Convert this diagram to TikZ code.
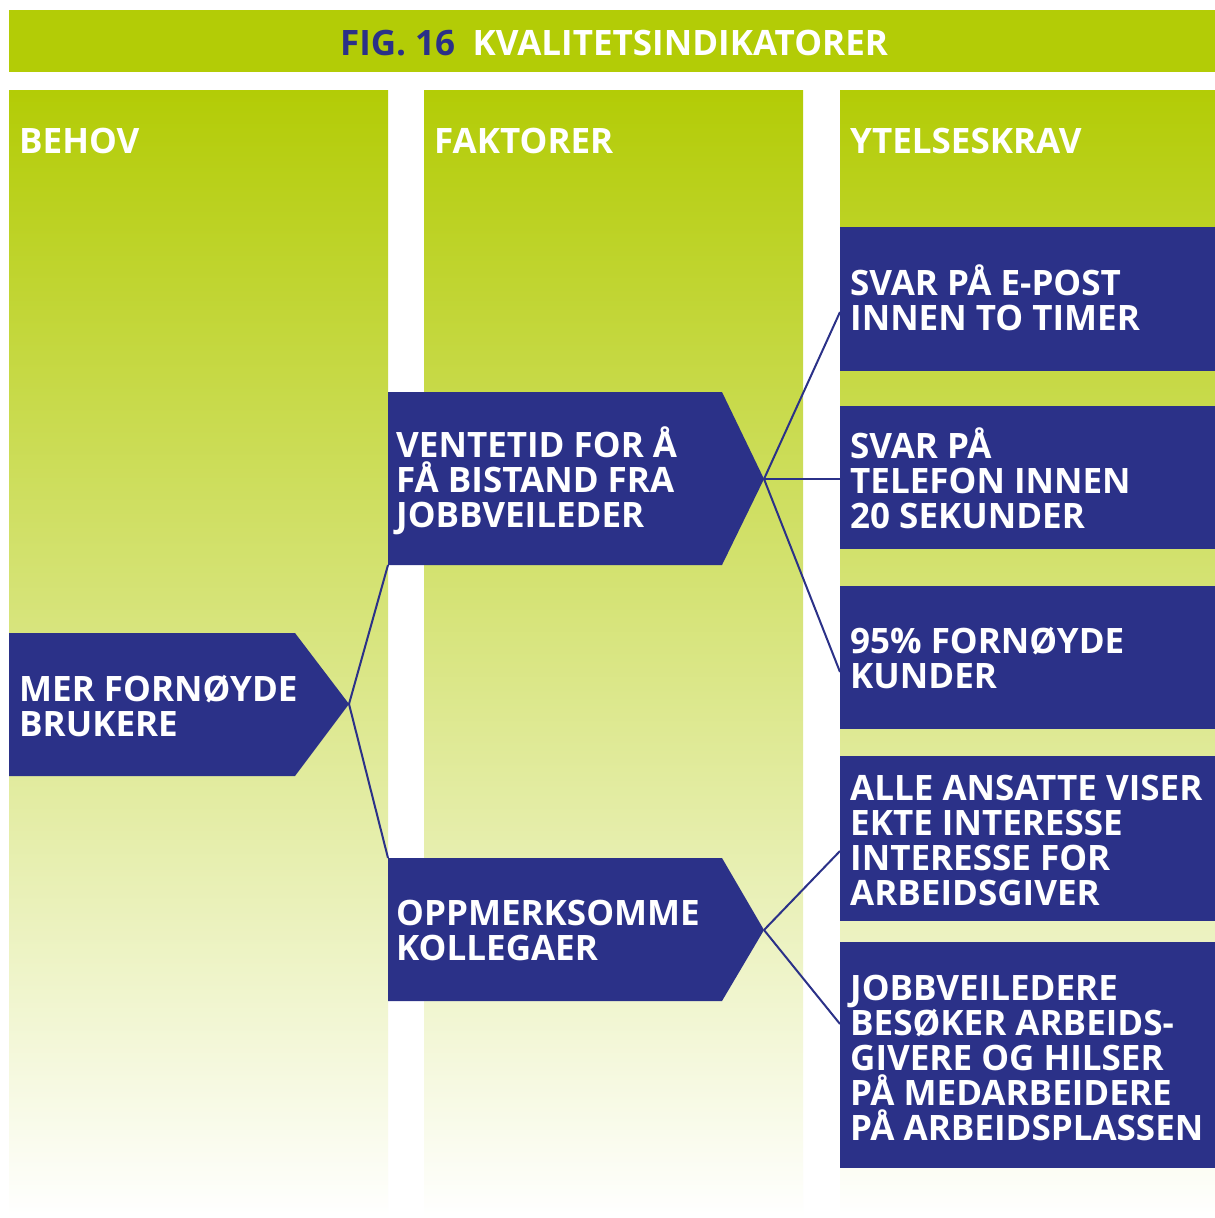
\documentclass[tikz,border=0pt]{standalone}
\usepackage{fontspec}
\setmainfont{Open Sans}
\definecolor{lime}{RGB}{179,204,6}
\definecolor{navy}{RGB}{43,49,136}
\tikzset{
  boxfill/.style={fill=navy},
  colshade/.style={top color=lime, bottom color=white},
  txt/.style={text=white, font=\bfseries\fontsize{35}{35}\selectfont, align=left, anchor=base west, inner sep=0pt},
  head/.style={text=white, font=\bfseries\fontsize{35}{35}\selectfont, anchor=base west, inner sep=0pt},
  link/.style={draw=navy, line width=2pt}
}
\begin{document}
\begin{tikzpicture}[x=1pt,y=-1pt]
\useasboundingbox (0,0) rectangle (1215,1218);
\fill[white] (0,0) rectangle (1215,1218);
% title bar
\fill[lime] (9,10) rectangle (1215,72);
\node[inner sep=0pt, anchor=base, font=\bfseries\fontsize{35}{35}\selectfont, text=white] (title) at (614,55) {\textcolor{navy}{FIG. 16}\hspace{0.5em}KVALITETSINDIKATORER};
% columns
\shade[colshade] (9,90) rectangle (388,1218);
\shade[colshade] (424,90) rectangle (803,1218);
\shade[colshade] (840,90) rectangle (1215,1218);
\node[head] (h1) at (19,153) {BEHOV};
\node[head] (h2) at (434,153) {FAKTORER};
\node[head] (h3) at (850,153) {YTELSESKRAV};
% left/middle arrow boxes
\fill[boxfill] (9,633) -- (295,633) -- (349,704) -- (295,776) -- (9,776) -- cycle;
\coordinate (behovtip) at (349,704);
\fill[boxfill] (388,392) -- (722,392) -- (764,479) -- (722,565) -- (388,565) -- cycle;
\coordinate (venttip) at (764,479);
\coordinate (ventbl) at (388,565);
\fill[boxfill] (388,858) -- (722,858) -- (764,930) -- (722,1001) -- (388,1001) -- cycle;
\coordinate (oppmtip) at (764,930);
\coordinate (oppmtl) at (388,858);
% right boxes
\fill[boxfill] (840,227) rectangle (1215,371);
\fill[boxfill] (840,406) rectangle (1215,549);
\fill[boxfill] (840,586) rectangle (1215,729);
\fill[boxfill] (840,756) rectangle (1215,921);
\fill[boxfill] (840,942) rectangle (1215,1168);
\coordinate (r1) at (840,312);
\coordinate (r2) at (840,479);
\coordinate (r3) at (840,672);
\coordinate (r4) at (840,851);
\coordinate (r5) at (840,1024);
% connectors
\draw[link] (behovtip) -- (ventbl);
\draw[link] (behovtip) -- (oppmtl);
\draw[link] (venttip) -- (r1);
\draw[link] (venttip) -- (r2);
\draw[link] (venttip) -- (r3);
\draw[link] (oppmtip) -- (r4);
\draw[link] (oppmtip) -- (r5);
% texts (anchor = baseline of last line)
\node[txt] (mer) at (19,736) {MER FORNØYDE\\BRUKERE};
\node[txt] (vent) at (396,527) {VENTETID FOR Å\\FÅ BISTAND FRA\\JOBBVEILEDER};
\node[txt] (oppm) at (396,960) {OPPMERKSOMME\\KOLLEGAER};
\node[txt] (t1) at (850,330) {SVAR PÅ E-POST\\INNEN TO TIMER};
\node[txt] (t2) at (850,528) {SVAR PÅ\\TELEFON INNEN\\20 SEKUNDER};
\node[txt] (t3) at (850,688) {95\% FORNØYDE\\KUNDER};
\node[txt] (t4) at (850,905) {ALLE ANSATTE VISER\\EKTE INTERESSE\\INTERESSE FOR\\ARBEIDSGIVER};
\node[txt] (t5) at (850,1140) {JOBBVEILEDERE\\BESØKER ARBEIDS-\\GIVERE OG HILSER\\PÅ MEDARBEIDERE\\PÅ ARBEIDSPLASSEN};
\end{tikzpicture}
\end{document}
